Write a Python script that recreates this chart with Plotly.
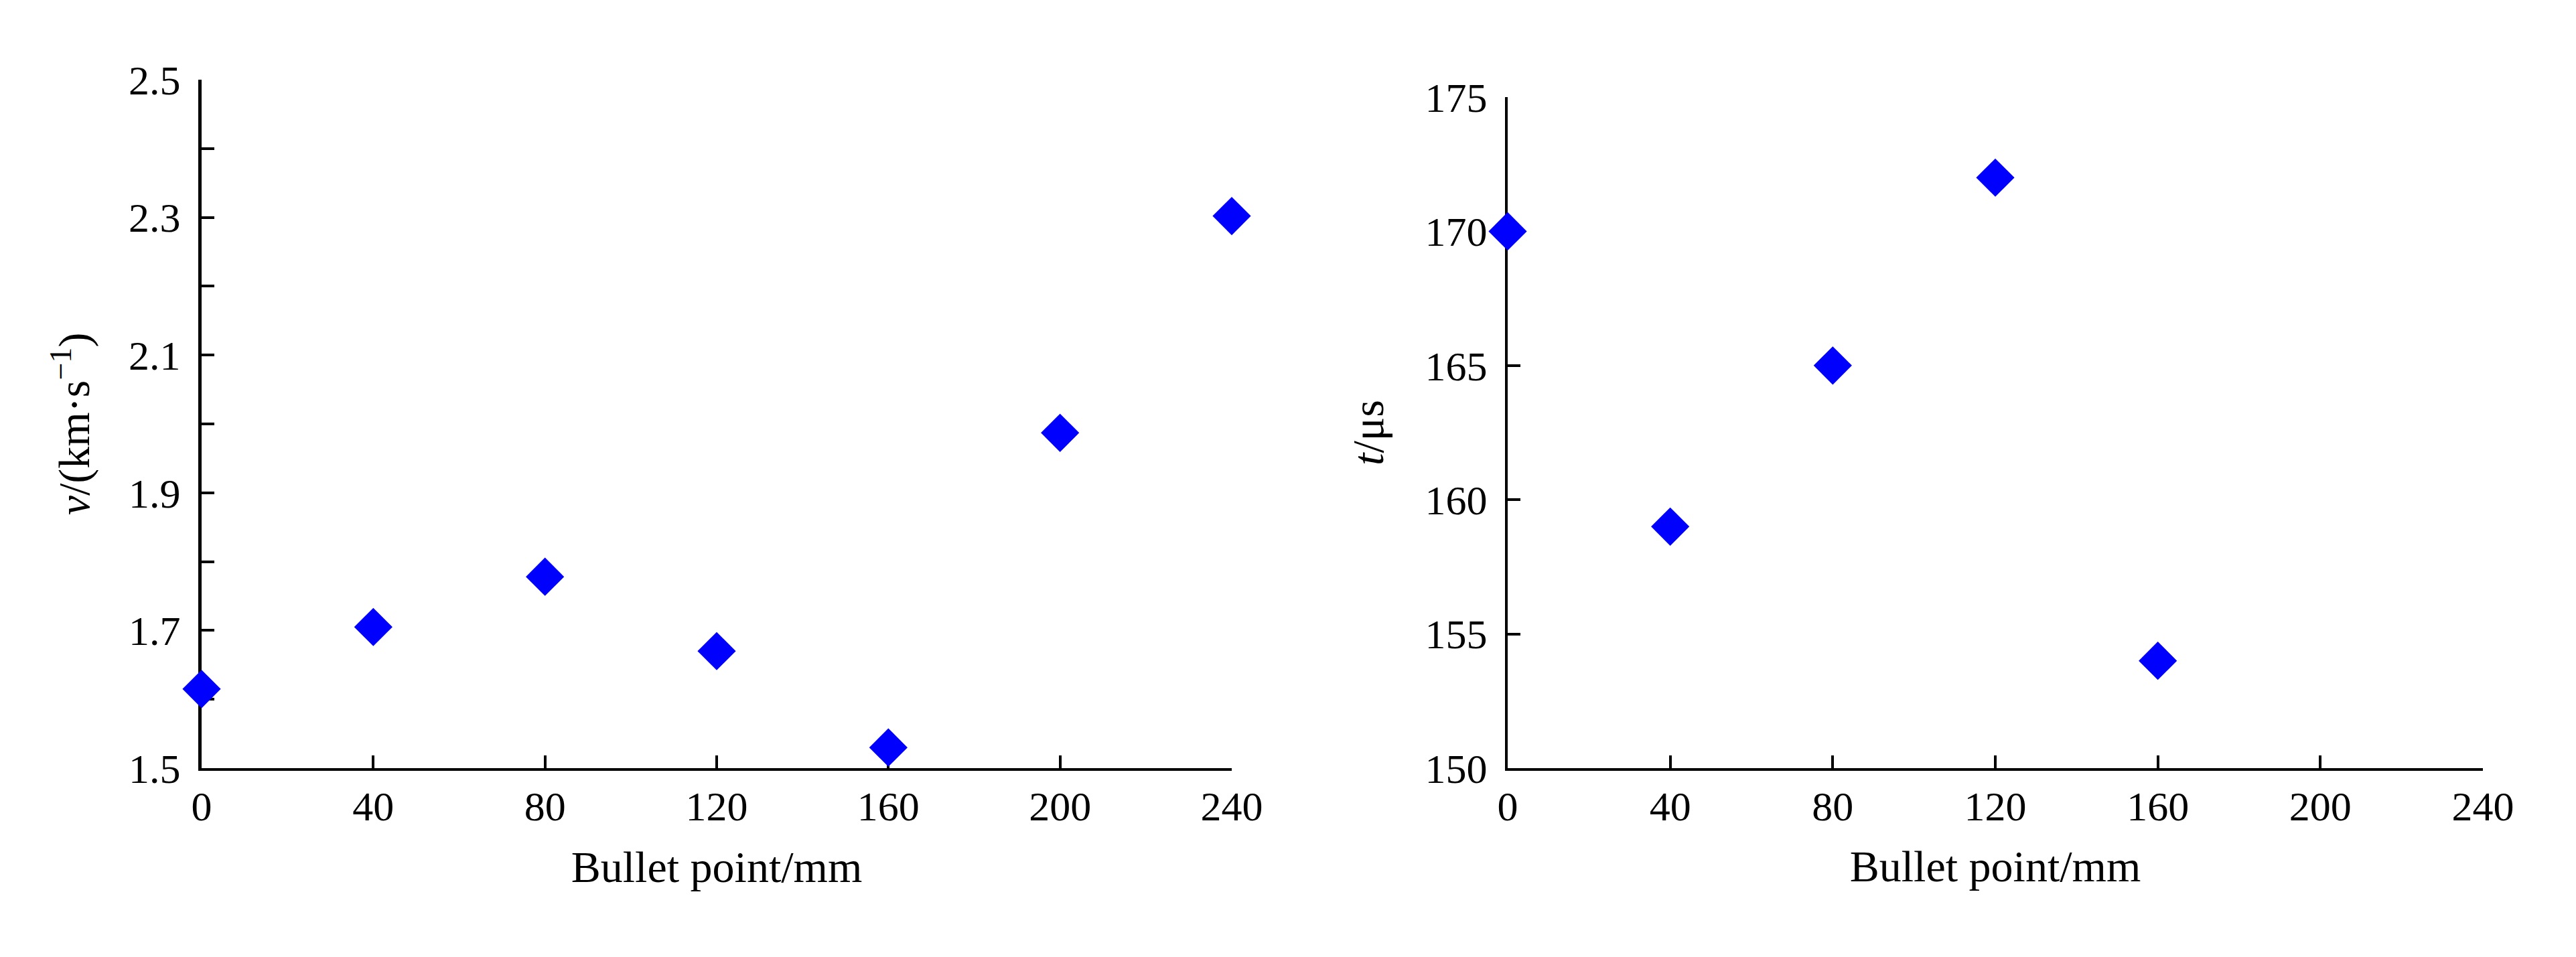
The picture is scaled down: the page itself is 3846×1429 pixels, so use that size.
import plotly.graph_objects as go

# ---- data ----
positions_v = [0, 40, 80, 120, 160, 200, 240]
velocity = [1.615, 1.705, 1.778, 1.670, 1.530, 1.987, 2.302]
positions_t = [0, 40, 80, 120, 160]
time_us = [170, 159, 165, 172, 154]

x_ticks = [0, 40, 80, 120, 160, 200, 240]
v_ticks = [1.5, 1.7, 1.9, 2.1, 2.3, 2.5]
t_ticks = [150, 155, 160, 165, 170, 175]

FONT = "Liberation Serif"
OFF = 8  # default body margin of the page
W, H = 3846 - 2 * OFF, 1429 - 2 * OFF
BLUE = "#0000FF"


def fx(px):
    return (px - OFF) / W


def fy(py):
    return 1 - (py - OFF) / H


fig = go.Figure()
fig.add_trace(go.Scatter(
    x=positions_v, y=velocity, mode="markers", xaxis="x", yaxis="y",
    marker=dict(symbol="diamond", size=44, color=BLUE, line=dict(width=0)),
    cliponaxis=False, showlegend=False))
fig.add_trace(go.Scatter(
    x=positions_t, y=time_us, mode="markers", xaxis="x2", yaxis="y2",
    marker=dict(symbol="diamond", size=44, color=BLUE, line=dict(width=0)),
    cliponaxis=False, showlegend=False))


def xax(domain, anchor, lw):
    return dict(domain=domain, anchor=anchor, range=[0, 240],
                tickmode="array", tickvals=x_ticks,
                ticks="inside", ticklen=19, tickwidth=4, tickcolor="black",
                showline=True, linecolor="black", linewidth=lw,
                showgrid=False, zeroline=False, layer="below traces",
                automargin=False, ticklabelstandoff=0,
                tickfont=dict(family=FONT, size=62, color="black"),
                title=dict(text="Bullet point/mm", standoff=34,
                           font=dict(family=FONT, size=66, color="black")))


def yax(domain, anchor, rng, vals, lw, title, standoff, minor=None):
    d = dict(domain=domain, anchor=anchor, range=rng,
             tickmode="array", tickvals=vals,
             ticks="inside", ticklen=19, tickwidth=4, tickcolor="black",
             showline=True, linecolor="black", linewidth=lw,
             showgrid=False, zeroline=False, layer="below traces",
             automargin=False, ticklabelstandoff=14,
             tickfont=dict(family=FONT, size=62, color="black"),
             title=dict(text=title, standoff=standoff,
                        font=dict(family=FONT, size=66, color="black")))
    if minor is not None:
        d["minor"] = minor
    return d


fig.update_layout(
    width=W, height=H,
    margin=dict(l=0, r=0, t=0, b=0),
    paper_bgcolor="white", plot_bgcolor="white",
    xaxis=xax([fx(301), fx(1839)], "y", 4),
    yaxis=yax([fy(1147), fy(119)], "x", [1.5, 2.5], v_ticks, 5,
              "<i>v</i>/(km·s<sup>−1</sup>)", 38,
              minor=dict(dtick=0.1, tick0=1.5, ticks="inside", ticklen=19,
                         tickwidth=4, tickcolor="black", showgrid=False)),
    xaxis2=xax([fx(2251), fx(3707)], "y2", 3.5),
    yaxis2=yax([fy(1147), fy(145)], "x2", [150, 175], t_ticks, 4,
               "<i>t</i>/μs", 42),
)

fig.write_html("out.html")
